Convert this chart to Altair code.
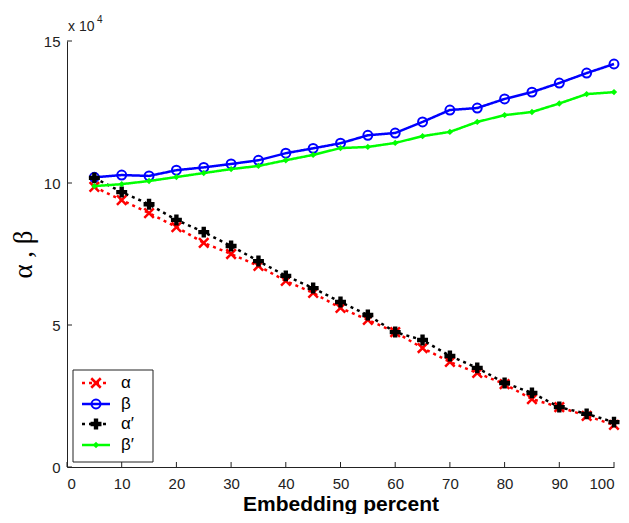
import altair as alt
import pandas as pd

# ---- data (values in units of 10^4) ----
pct = [5, 10, 15, 20, 25, 30, 35, 40, 45, 50, 55, 60, 65, 70, 75, 80, 85, 90, 95, 100]
alpha = [9.86, 9.40, 8.94, 8.45, 7.89, 7.50, 7.08, 6.55, 6.13, 5.60,
         5.18, 4.75, 4.19, 3.70, 3.31, 2.92, 2.39, 2.11, 1.80, 1.48]
beta = [10.20, 10.28, 10.25, 10.45, 10.55, 10.67, 10.80, 11.05, 11.22, 11.40,
        11.68, 11.76, 12.15, 12.57, 12.64, 12.96, 13.20, 13.52, 13.87, 14.19]
alpha_p = [10.18, 9.68, 9.25, 8.70, 8.27, 7.78, 7.25, 6.73, 6.30, 5.81,
           5.35, 4.75, 4.47, 3.91, 3.49, 2.96, 2.61, 2.11, 1.87, 1.58]
beta_p = [9.89, 9.96, 10.07, 10.21, 10.35, 10.49, 10.60, 10.80, 10.99, 11.23,
          11.27, 11.41, 11.65, 11.80, 12.15, 12.39, 12.50, 12.80, 13.13, 13.20]

series_names = ["α", "β", "α′", "β′"]
series_values = [alpha, beta, alpha_p, beta_p]
x_ticks = [0, 10, 20, 30, 40, 50, 60, 70, 80, 90, 100]
y_ticks = [0, 5, 10, 15]

# ---- styles ----
colors = ["#ff0000", "#0000ff", "#000000", "#00ff00"]
dashes = [[3, 4], [1, 0], [3, 4], [1, 0]]
X_PATH = "M-1,-1L1,1M1,-1L-1,1"
marker_shapes = [X_PATH, "circle", "cross", "diamond"]
marker_filled = [False, False, True, True]
marker_sizes = [90, 80, 120, 40]
marker_sw = [2.5, 2, 0, 0]

W, H = 547, 426
xs = alt.Scale(domain=[0, 100], nice=False, zero=False)
ys = alt.Scale(domain=[0, 15], nice=False, zero=False)
FONT = "Liberation Sans"

XA = alt.Axis(
    values=x_ticks, format="d", ticks=False, tickSize=0, grid=False,
    domainColor="#222222", domainWidth=1, labelPadding=9,
    labelFont=FONT, labelFontSize=15, labelColor="#222222",
    title="Embedding percent", titleFont=FONT, titleFontSize=21,
    titleFontWeight="bold", titleColor="#000000",
    titleY=43, titleBaseline="alphabetic")
YA = alt.Axis(
    values=y_ticks, format="d", ticks=False, tickSize=0, grid=False,
    domainColor="#222222", domainWidth=1, labelPadding=7,
    labelFont=FONT, labelFontSize=15, labelColor="#222222",
    title="α , β", titleFont="Liberation Serif", titleFontSize=27,
    titleFontWeight="normal", titleColor="#000000",
    titleX=-44, titleY=H / 2, titleAngle=270,
    titleAlign="center", titleBaseline="middle")


def X():
    return alt.X("pct:Q", scale=xs, axis=XA)


def Y():
    return alt.Y("val:Q", scale=ys, axis=YA)


layers = []

# inward tick marks
ytick_df = pd.DataFrame({"val": y_ticks})
layers.append(alt.Chart(ytick_df).mark_rule(color="#222222", strokeWidth=1).encode(
    y=Y(), x=alt.value(0), x2=alt.value(5)))
xtick_df = pd.DataFrame({"pct": x_ticks})
layers.append(alt.Chart(xtick_df).mark_rule(color="#222222", strokeWidth=1).encode(
    x=X(), y=alt.value(H), y2=alt.value(H - 5)))

# series
for name, vals, col, dash, shp, fil, sz, sw in zip(
        series_names, series_values, colors, dashes, marker_shapes,
        marker_filled, marker_sizes, marker_sw):
    df = pd.DataFrame({"pct": pct, "val": vals, "series": name})
    base = alt.Chart(df).encode(x=X(), y=Y())
    layers.append(base.mark_line(color=col, strokeWidth=2.5, strokeDash=dash,
                                 strokeCap="butt"))
    if fil:
        layers.append(base.mark_point(shape=shp, filled=True, color=col,
                                      size=sz, opacity=1, strokeWidth=0))
    else:
        layers.append(base.mark_point(shape=shp, filled=False, color=col,
                                      size=sz, opacity=1, strokeWidth=sw))

# multiplier label
layers.append(alt.Chart(pd.DataFrame({"t": ["x 10"]})).mark_text(
    align="left", baseline="alphabetic", font=FONT, fontSize=14, color="#222222").encode(
    text="t:N", x=alt.value(1), y=alt.value(-10)))
layers.append(alt.Chart(pd.DataFrame({"t": ["4"]})).mark_text(
    align="left", baseline="alphabetic", font=FONT, fontSize=10, color="#222222").encode(
    text="t:N", x=alt.value(30), y=alt.value(-18)))

# legend box
LX0, LX1, LY0, LY1 = 6, 86, 329, 421
layers.append(alt.Chart(pd.DataFrame({"a": [0]})).mark_rect(
    fill="#ffffff", stroke="#222222", strokeWidth=1).encode(
    x=alt.value(LX0), x2=alt.value(LX1), y=alt.value(LY0), y2=alt.value(LY1)))

ly = [342, 363, 383, 404]
for name, col, dash, shp, fil, sz, sw, yy in zip(
        series_names, colors, dashes, marker_shapes, marker_filled,
        marker_sizes, marker_sw, ly):
    one = pd.DataFrame({"series": [name]})
    layers.append(alt.Chart(one).mark_rule(color=col, strokeWidth=2.5,
                                           strokeDash=dash, strokeCap="butt").encode(
        x=alt.value(15), x2=alt.value(43), y=alt.value(yy)))
    if fil:
        layers.append(alt.Chart(one).mark_point(shape=shp, filled=True, color=col,
                                                size=sz, opacity=1, strokeWidth=0).encode(
            x=alt.value(29), y=alt.value(yy)))
    else:
        layers.append(alt.Chart(one).mark_point(shape=shp, filled=False, color=col,
                                                size=sz, opacity=1, strokeWidth=sw).encode(
            x=alt.value(29), y=alt.value(yy)))
    layers.append(alt.Chart(one).mark_text(align="left", baseline="middle",
                                           font=FONT, fontSize=17, color="#000000").encode(
        text="series:N", x=alt.value(54), y=alt.value(yy)))

chart = alt.layer(*layers).properties(
    width=W, height=H,
    autosize=alt.AutoSizeParams(type="none"),
    padding={"left": 59, "top": 33, "right": 6, "bottom": 47},
    background="#ffffff",
).configure_view(stroke=None)

chart.save("out.html", embed_options={"renderer": "svg", "actions": False})
